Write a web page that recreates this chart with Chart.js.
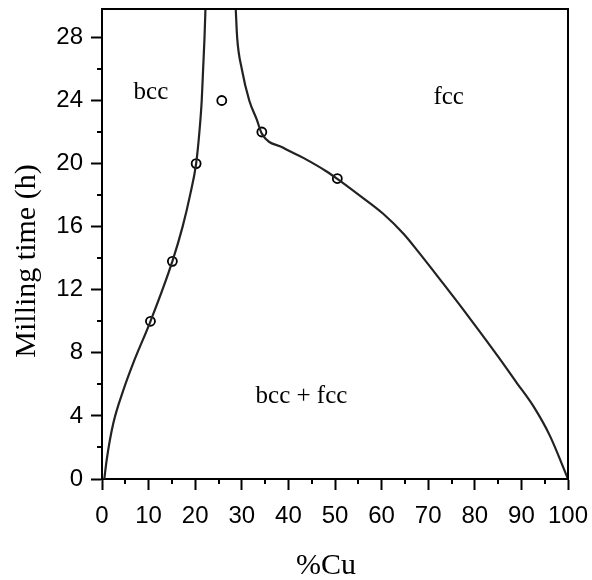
<!DOCTYPE html>
<html>
<head>
<meta charset="utf-8">
<script src="https://cdn.jsdelivr.net/npm/chart.js@4/dist/chart.umd.min.js"></script>
<style>
  html, body { margin: 0; padding: 0; background: #fff; }
  #wrap { width: 592px; height: 580px; }
</style>
</head>
<body>
<div id="wrap"><canvas id="chart"></canvas></div>
<script>
// bcc / bcc+fcc boundary
var bccX = [0.5, 1.0, 2.4, 4.6, 6.7, 10.4, 15.1, 17.3, 18.9, 20.2, 20.9, 21.4, 21.7, 22.0, 22.2];
var bccY = [0, 1.2, 3.5, 5.65, 7.35, 10, 13.8, 16, 18, 20, 22, 24, 26, 28, 29.8];

// fcc / bcc+fcc boundary
var fccX = [28.7, 29.0, 30.0, 31.6, 33.2, 34.3, 38.9, 43.2, 48.2, 50.5, 55.4, 60.4, 64.7, 67.9, 73.2, 76.8, 81.1, 85.4, 89.0, 92.6, 96.1, 100];
var fccY = [29.8, 28, 26, 24, 22.8, 21.9, 21.0, 20.36, 19.5, 19.03, 17.95, 16.8, 15.55, 14.4, 12.4, 11.02, 9.33, 7.6, 6.1, 4.6, 2.75, 0];

// measured points
var ptX = [10.4, 15.1, 20.2, 25.7, 34.3, 50.5];
var ptY = [10, 13.8, 20, 24, 22, 19.05];

// region labels
var regionText = ['bcc', 'fcc', 'bcc + fcc'];
var regionX = [10.5, 74.4, 42.8];
var regionY = [24.1, 23.8, 4.8];

var xTitle = '%Cu';
var yTitle = 'Milling time (h)';

function pairs(xs, ys) {
    var out = [];
    for (var i = 0; i < xs.length; i++) out.push({ x: xs[i], y: ys[i] });
    return out;
}

var serif = '"Liberation Serif", "DejaVu Serif", serif';
var sans = '"Liberation Sans", Arial, sans-serif';

function isMajorX(v) { return v % 10 === 0; }
function isMajorY(v) { return v % 4 === 0; }

// frame on top/right, short minor ticks, phase labels, axis titles
var extras = {
    id: 'extras',
    afterDraw: function (chart) {
        var ctx = chart.ctx, a = chart.chartArea;
        var sx = chart.scales.x, sy = chart.scales.y;
        ctx.save();
        ctx.strokeStyle = '#000';
        ctx.lineWidth = 2;
        ctx.beginPath();
        ctx.moveTo(a.left - 1, a.top);
        ctx.lineTo(a.right, a.top);
        ctx.lineTo(a.right, a.bottom);
        ctx.stroke();

        ctx.beginPath();
        sx.ticks.forEach(function (t) {
            if (isMajorX(t.value)) return;
            var px = Math.round(sx.getPixelForValue(t.value));
            ctx.moveTo(px, a.bottom);
            ctx.lineTo(px, a.bottom + 5);
        });
        sy.ticks.forEach(function (t) {
            if (isMajorY(t.value)) return;
            var py = Math.round(sy.getPixelForValue(t.value));
            ctx.moveTo(a.left, py);
            ctx.lineTo(a.left - 5, py);
        });
        ctx.stroke();

        ctx.fillStyle = '#000';
        ctx.font = '25px ' + serif;
        ctx.textAlign = 'center';
        ctx.textBaseline = 'alphabetic';
        for (var i = 0; i < regionText.length; i++) {
            ctx.fillText(regionText[i], sx.getPixelForValue(regionX[i]), sy.getPixelForValue(regionY[i]));
        }

        ctx.font = '30px ' + serif;
        ctx.fillText(xTitle, a.left + 224, 574);
        ctx.translate(35, a.top + 252);
        ctx.rotate(-Math.PI / 2);
        ctx.fillText(yTitle, 0, 0);
        ctx.restore();
    }
};

new Chart(document.getElementById('chart'), {
    type: 'scatter',
    data: {
        datasets: [
            {
                data: pairs(bccX, bccY),
                showLine: true,
                borderColor: '#222',
                borderWidth: 2.2,
                pointRadius: 0,
                cubicInterpolationMode: 'monotone'
            },
            {
                data: pairs(fccX, fccY),
                showLine: true,
                borderColor: '#222',
                borderWidth: 2.2,
                pointRadius: 0,
                cubicInterpolationMode: 'monotone'
            },
            {
                data: pairs(ptX, ptY),
                showLine: false,
                pointRadius: 4.5,
                pointBackgroundColor: '#fff',
                pointBorderColor: '#000',
                pointBorderWidth: 1.8
            }
        ]
    },
    options: {
        responsive: true,
        maintainAspectRatio: false,
        animation: false,
        layout: { padding: { top: 9, right: 24, left: 0, bottom: 0 } },
        plugins: { legend: { display: false }, tooltip: { enabled: false } },
        scales: {
            x: {
                type: 'linear',
                min: 0,
                max: 100,
                ticks: {
                    stepSize: 5,
                    autoSkip: false,
                    maxRotation: 0,
                    padding: 12,
                    color: '#000',
                    font: { family: sans, size: 24 },
                    callback: function (v) { return isMajorX(v) ? v : ''; }
                },
                grid: {
                    drawOnChartArea: false,
                    tickLength: 11,
                    tickWidth: 2,
                    tickColor: function (c) { return c.tick && isMajorX(c.tick.value) ? '#000' : 'rgba(0,0,0,0)'; }
                },
                border: { color: '#000', width: 2 },
                afterFit: function (s) {
                    s.height = 101;
                    s.paddingLeft = 0;
                    s.paddingRight = 0;
                }
            },
            y: {
                type: 'linear',
                min: 0,
                max: 29.8,
                ticks: {
                    stepSize: 2,
                    autoSkip: false,
                    padding: 8,
                    color: '#000',
                    font: { family: sans, size: 24 },
                    callback: function (v) { return isMajorY(v) ? v : ''; }
                },
                afterBuildTicks: function (s) {
                    s.ticks = s.ticks.filter(function (t) { return t.value % 2 === 0; });
                },
                grid: {
                    drawOnChartArea: false,
                    tickLength: 11,
                    tickWidth: 2,
                    tickColor: function (c) { return c.tick && isMajorY(c.tick.value) ? '#000' : 'rgba(0,0,0,0)'; }
                },
                border: { color: '#000', width: 2 },
                afterFit: function (s) {
                    s.width = 102;
                    s.paddingTop = 0;
                    s.paddingBottom = 0;
                }
            }
        }
    },
    plugins: [extras]
});
</script>
</body>
</html>
